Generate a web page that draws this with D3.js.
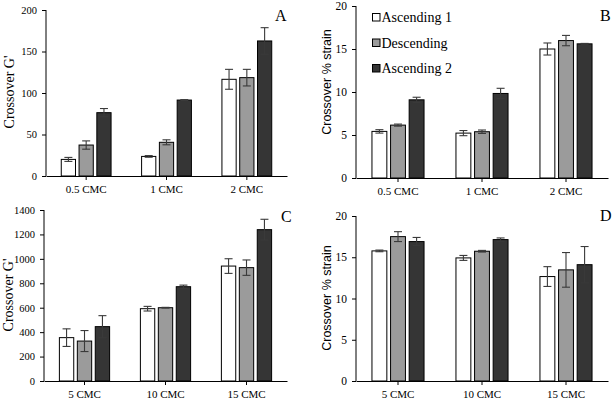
<!DOCTYPE html>
<html><head><meta charset="utf-8">
<script src="https://cdn.jsdelivr.net/npm/d3@7"></script>
<style>body{margin:0;background:#fff}svg{display:block}</style>
</head><body>
<svg id="c" width="614" height="400"></svg>
<script>
const series = ["Ascending 1", "Descending", "Ascending 2"];
const colors = ["#ffffff", "#9b9b9b", "#353535"];

const catsTop = ["0.5 CMC", "1 CMC", "2 CMC"];
const catsBottom = ["5 CMC", "10 CMC", "15 CMC"];

// Panel A: Crossover G'
const aAsc1 = [20, 23.6, 116.5], aAsc1Err = [2.4, 1, 12];
const aDesc = [37.3, 40.6, 118.5], aDescErr = [5, 3, 10];
const aAsc2 = [76.3, 91.5, 162.7], aAsc2Err = [5, 0.5, 16];
const aTicks = [0, 50, 100, 150, 200];

// Panel B: Crossover % strain
const bAsc1 = [5.42, 5.22, 15.0], bAsc1Err = [0.2, 0.3, 0.7];
const bDesc = [6.15, 5.38, 15.98], bDescErr = [0.12, 0.2, 0.6];
const bAsc2 = [9.09, 9.83, 15.6], bAsc2Err = [0.3, 0.6, 0.05];
const bTicks = [0, 5, 10, 15, 20];

// Panel C: Crossover G'
const cAsc1 = [355, 592, 941], cAsc1Err = [72, 19, 60];
const cDesc = [327, 600, 928], cDescErr = [86, 3, 63];
const cAsc2 = [445, 772, 1239], cAsc2Err = [90, 13, 85];
const cTicks = [0, 200, 400, 600, 800, 1000, 1200, 1400];

// Panel D: Crossover % strain
const dAsc1 = [15.77, 14.92, 12.66], dAsc1Err = [0.1, 0.3, 1.2];
const dDesc = [17.5, 15.73, 13.47], dDescErr = [0.6, 0.1, 2.1];
const dAsc2 = [16.9, 17.14, 14.1], dAsc2Err = [0.5, 0.2, 2.2];
const dTicks = [0, 5, 10, 15, 20];

const svg = d3.select("#c");
const SERIF = "'Liberation Serif','Times New Roman',serif";
const SANS = "'Liberation Sans',Arial,sans-serif";

function panel(o) {
  const g = svg.append("g");
  const x0 = d3.scaleBand().domain(o.cats).range([o.left, o.right]);
  const bw = x0.bandwidth();
  const gw = bw * 0.62;
  const x1 = d3.scaleBand().domain(series).range([0, gw]).paddingInner(0.2);
  const y = d3.scaleLinear().domain([0, o.ticks[o.ticks.length - 1]]).range([o.bottom, o.top]);

  const rows = [];
  o.cats.forEach((c, i) => {
    o.vals.forEach((arr, s) => {
      rows.push({cat: c, s: s, v: arr[i], e: o.errs[s][i]});
    });
  });

  const bars = g.append("g");
  bars.selectAll("rect").data(rows).enter().append("rect")
    .attr("x", d => x0(d.cat) + bw / 2 - gw / 2 + x1(series[d.s]))
    .attr("y", d => y(d.v))
    .attr("width", x1.bandwidth())
    .attr("height", d => y(0) - y(d.v))
    .attr("fill", d => colors[d.s])
    .attr("stroke", "#000").attr("stroke-width", 1);

  const eb = g.append("g").attr("stroke", "#3a3a3a").attr("stroke-width", 1.1);
  rows.forEach(d => {
    const cx = x0(d.cat) + bw / 2 - gw / 2 + x1(series[d.s]) + x1.bandwidth() / 2;
    const y1 = y(d.v + d.e), y2 = y(d.v - d.e);
    eb.append("line").attr("x1", cx).attr("x2", cx).attr("y1", y1).attr("y2", y2);
    eb.append("line").attr("x1", cx - 4).attr("x2", cx + 4).attr("y1", y1).attr("y2", y1);
    eb.append("line").attr("x1", cx - 4).attr("x2", cx + 4).attr("y1", y2).attr("y2", y2);
  });

  const ya = g.append("g").attr("transform", `translate(${o.left},0)`)
    .call(d3.axisLeft(y).tickValues(o.ticks).tickSize(4).tickPadding(o.tickPad).tickFormat(d3.format("d")));
  ya.attr("font-family", null).attr("font-size", null);
  ya.select(".domain").attr("d", `M0,${o.bottom}V${o.top}`);
  ya.selectAll("text").style("font-family", SERIF).style("font-size", o.tickFont + "px").attr("fill", "#000");

  const xa = g.append("g").attr("transform", `translate(0,${o.bottom})`)
    .call(d3.axisBottom(x0).tickSize(4).tickPadding(5).tickSizeOuter(0));
  xa.attr("font-family", null).attr("font-size", null);
  xa.selectAll("text").style("font-family", SERIF).style("font-size", "11px").attr("fill", "#000");
  g.selectAll(".domain, .tick line").attr("stroke", "#000");

  g.append("text").attr("transform", `translate(${o.titleX},${o.titleY}) rotate(-90)`)
    .attr("text-anchor", "middle").style("font-family", o.titleFont).style("font-size", o.titleSize + "px")
    .text(o.title);

  g.append("text").attr("x", o.letterX).attr("y", o.letterY).style("font-family", SERIF)
    .style("font-size", "16px").text(o.letter);
  return g;
}

panel({cats: catsTop, vals: [aAsc1, aDesc, aAsc2], errs: [aAsc1Err, aDescErr, aAsc2Err], ticks: aTicks,
  left: 46, right: 287, top: 10, bottom: 176, tickFont: 10.5, tickPad: 5,
  title: "Crossover G'", titleFont: SERIF, titleSize: 14, titleX: 14, titleY: 92, letter: "A", letterX: 275, letterY: 21});

panel({cats: catsTop, vals: [bAsc1, bDesc, bAsc2], errs: [bAsc1Err, bDescErr, bAsc2Err], ticks: bTicks,
  left: 356, right: 608, top: 6, bottom: 178, tickFont: 11.5, tickPad: 5,
  title: "Crossover % strain", titleFont: SANS, titleSize: 12.5, titleX: 331, titleY: 82, letter: "B", letterX: 600, letterY: 21});

panel({cats: catsBottom, vals: [cAsc1, cDesc, cAsc2], errs: [cAsc1Err, cDescErr, cAsc2Err], ticks: cTicks,
  left: 44, right: 287, top: 210, bottom: 381, tickFont: 10.5, tickPad: 5,
  title: "Crossover G'", titleFont: SERIF, titleSize: 14, titleX: 13, titleY: 295, letter: "C", letterX: 281, letterY: 222});

panel({cats: catsBottom, vals: [dAsc1, dDesc, dAsc2], errs: [dAsc1Err, dDescErr, dAsc2Err], ticks: dTicks,
  left: 356, right: 608, top: 216, bottom: 381, tickFont: 11.5, tickPad: 5,
  title: "Crossover % strain", titleFont: SANS, titleSize: 12.5, titleX: 331, titleY: 298, letter: "D", letterX: 600, letterY: 221});

// Legend in panel B
const lg = svg.append("g").attr("transform", "translate(372,13)");
series.forEach((s, i) => {
  const r = lg.append("g").attr("transform", `translate(0,${i * 25.5})`);
  r.append("rect").attr("x", 0.5).attr("y", 0.5).attr("width", 7.5).attr("height", 7.5)
    .attr("fill", colors[i]).attr("stroke", "#000");
  r.append("text").attr("x", 9.5).attr("y", 9).style("font-family", SERIF).style("font-size", "14px").text(s);
});
</script>
</body></html>
